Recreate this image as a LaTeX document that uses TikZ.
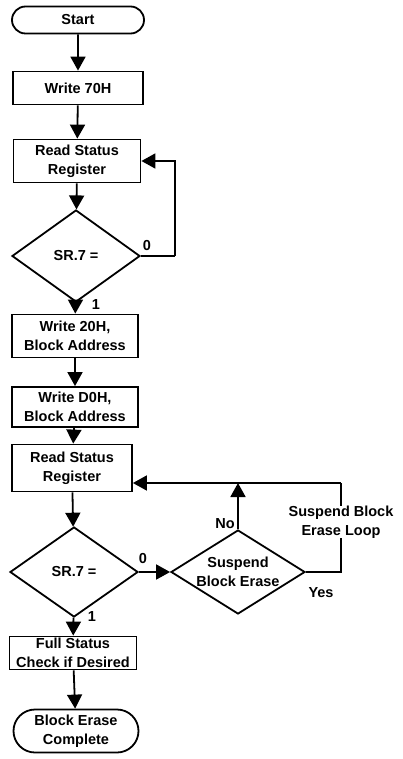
\documentclass[tikz,border=0pt]{standalone}
\usepackage{fontspec}
\setmainfont{Liberation Sans}
\usetikzlibrary{shapes.geometric,shapes.misc,arrows.meta}
\begin{document}
\begin{tikzpicture}[x=1pt,y=-1pt,
  every node/.style={font=\fontsize{14.5}{19}\selectfont\bfseries},
  box/.style={draw,line width=1.8pt,rectangle,inner sep=0pt,align=center},
  term/.style={draw,line width=1.8pt,rounded rectangle,inner sep=0pt,align=center},
  dia/.style={draw,line width=1.8pt,diamond,inner sep=0pt},
  lab/.style={inner sep=0pt,align=center},
  flow/.style={line width=1.8pt,-{Triangle[length=14pt,width=15pt]}},
  line/.style={line width=1.8pt}]
\useasboundingbox (0,0) rectangle (403,759);
\node[term,minimum width=132pt,minimum height=27pt] (start) at (78,20) {Start};
\node[box,minimum width=130pt,minimum height=33pt] (w70) at (78,88) {Write 70H};
\node[box,minimum width=127pt,minimum height=43pt] (rsr1) at (77,161) {Read Status\\Register};
\node[dia,minimum width=128pt,minimum height=92pt,label={center:SR.7 =}] (d1) at (76,256) {};
\node[box,minimum width=126pt,minimum height=43pt] (w20) at (75,336) {Write 20H,\\Block Address};
\node[box,minimum width=126pt,minimum height=40pt] (wd0) at (75,407) {Write D0H,\\Block Address};
\node[box,minimum width=120pt,minimum height=47pt] (rsr2) at (72,468) {Read Status\\Register};
\node[dia,minimum width=128pt,minimum height=90pt,label={center:SR.7 =}] (d2) at (74,572) {};
\node[dia,minimum width=134pt,minimum height=84pt,label={[align=center]center:Suspend\\Block Erase}] (sbe) at (238,572) {};
\node[box,minimum width=127pt,minimum height=33pt] (fsc) at (73,653) {Full Status\\Check if Desired};
\node[term,minimum width=125pt,minimum height=43pt] (bec) at (76,731) {Block Erase\\Complete};

\node[lab] (z1) at (147,246) {0};
\node[lab] (o1) at (96,305) {1};
\node[lab] (z2) at (143,559) {0};
\node[lab] (o2) at (92,617) {1};
\node[lab,anchor=east] (no) at (235,524) {No};
\node[lab] (yes) at (321,593) {Yes};
\node[lab] (sbl) at (341,522) {Suspend Block\\Erase Loop};

\coordinate (loop1) at (175,256);
\coordinate (loopR) at (341,483);

\draw[flow] (start) -- (w70);
\draw[flow] (w70) -- (rsr1);
\draw[flow] (rsr1) -- (d1);
\draw[flow] (d1) -- (w20);
\draw[flow] (w20) -- (wd0);
\draw[flow] (wd0) -- (rsr2);
\draw[flow] (rsr2) -- (d2);
\draw[flow] (d2) -- (fsc);
\draw[flow] (fsc) -- (bec);
\draw[line] (d1.east) -- (loop1);
\draw[flow] (loop1) |- (rsr1.east);
\draw[flow] (d2.east) -- (sbe.west);
\draw[flow] (sbe.north) -- (sbe.north |- loopR);
\draw[flow] (loopR) -- (rsr2.east |- loopR);
\draw[line] (sbe.east) -- (sbe.east -| loopR) -- (sbl.south -| loopR);
\draw[line] (sbl.north -| loopR) -- (loopR);
\end{tikzpicture}
\end{document}
